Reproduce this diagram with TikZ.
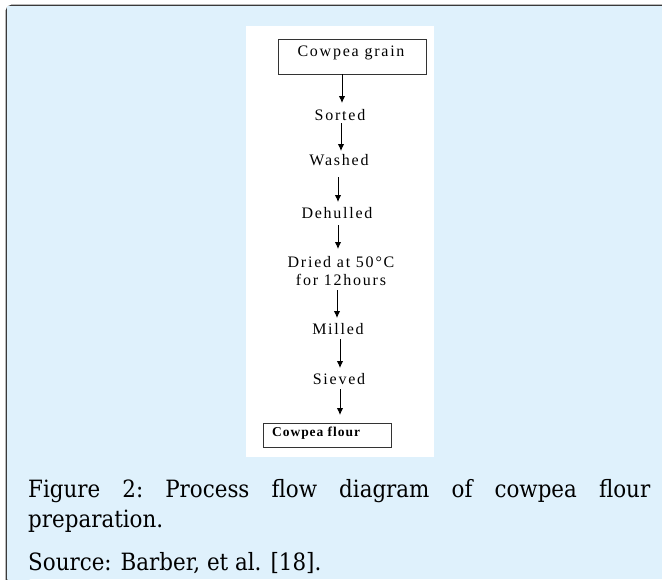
\documentclass[tikz,border=0pt]{standalone}
\usepackage{fontspec}
\usetikzlibrary{arrows.meta}
\setmainfont{DejaVu Serif Condensed}
\newfontfamily\flowfont[LetterSpace=11]{Liberation Serif}
\newfontfamily\flowbold[LetterSpace=7]{Liberation Serif Bold}
\definecolor{panelblue}{HTML}{DFF1FC}
\definecolor{framegray}{HTML}{3A3A3A}
\tikzset{
  stepbox/.style={draw=black!80, line width=0.9pt, fill=white, inner sep=0pt},
  steplabel/.style={inner sep=1pt, font=\flowfont\fontsize{16}{18}\selectfont, align=center},
  flowarrow/.style={-{Latex[length=7pt,width=6.5pt]}, line width=1pt, black},
  captionline/.style={anchor=base west, inner sep=0pt, font=\fontsize{23.8}{30}\selectfont},
}
\begin{document}
\begin{tikzpicture}[x=1pt,y=-1pt]
\useasboundingbox (0,0) rectangle (662,579);
% outer caption panel, continuing past the right and bottom edges
\fill[white] (0,0) rectangle (662,579);
\draw[framegray, line width=1.6pt, fill=panelblue, rounded corners=5pt]
  (6.5,600) -- (6.5,5.5) -- (680,5.5);
\fill[panelblue] (7.3,6.3) rectangle (662,579);
% white figure area
\fill[white] (246,26) rectangle (434,457);
% flow steps
\node[stepbox, minimum width=148pt, minimum height=35pt] (grain) at (352,56.5) {};
\node[steplabel] (graintext) at (351,53) {Cowpea grain};
\node[steplabel] (sorted) at (340,115) {Sorted};
\node[steplabel] (washed) at (339,160) {Washed};
\node[steplabel] (dehulled) at (337,213) {Dehulled};
\node[steplabel] (dried) at (341,271) {Dried at 50\textdegree C\\for 12hours};
\node[steplabel] (milled) at (338,329) {Milled};
\node[steplabel] (sieved) at (339,379) {Sieved};
\node[stepbox, minimum width=128pt, minimum height=24pt] (flour) at (327,435) {};
\node[anchor=base west, inner sep=0pt, font=\flowbold\fontsize{13.5}{15}\selectfont] (flourtext) at (272,436) {Cowpea flour};
% connectors
\draw[flowarrow] (grain.south -| 342,0) -- (342,103);
\draw[flowarrow] (341,123) -- (341,151);
\draw[flowarrow] (338,177) -- (338,202);
\draw[flowarrow] (338,225) -- (338,249);
\draw[flowarrow] (337,290) -- (337,318);
\draw[flowarrow] (340,339) -- (340,368);
\draw[flowarrow] (340,389) -- (340,415);
% caption, first line set full measure
\node[captionline] (cap1) at (28,497)
  {\makebox[622pt][s]{Figure\hfill 2:\hfill Process\hfill flow\hfill diagram\hfill of\hfill cowpea\hfill flour}};
\node[captionline] (cap2) at (28,527) {preparation.};
\node[captionline] (source) at (28,570) {Source: Barber, et al. [18].};
\end{tikzpicture}
\end{document}
